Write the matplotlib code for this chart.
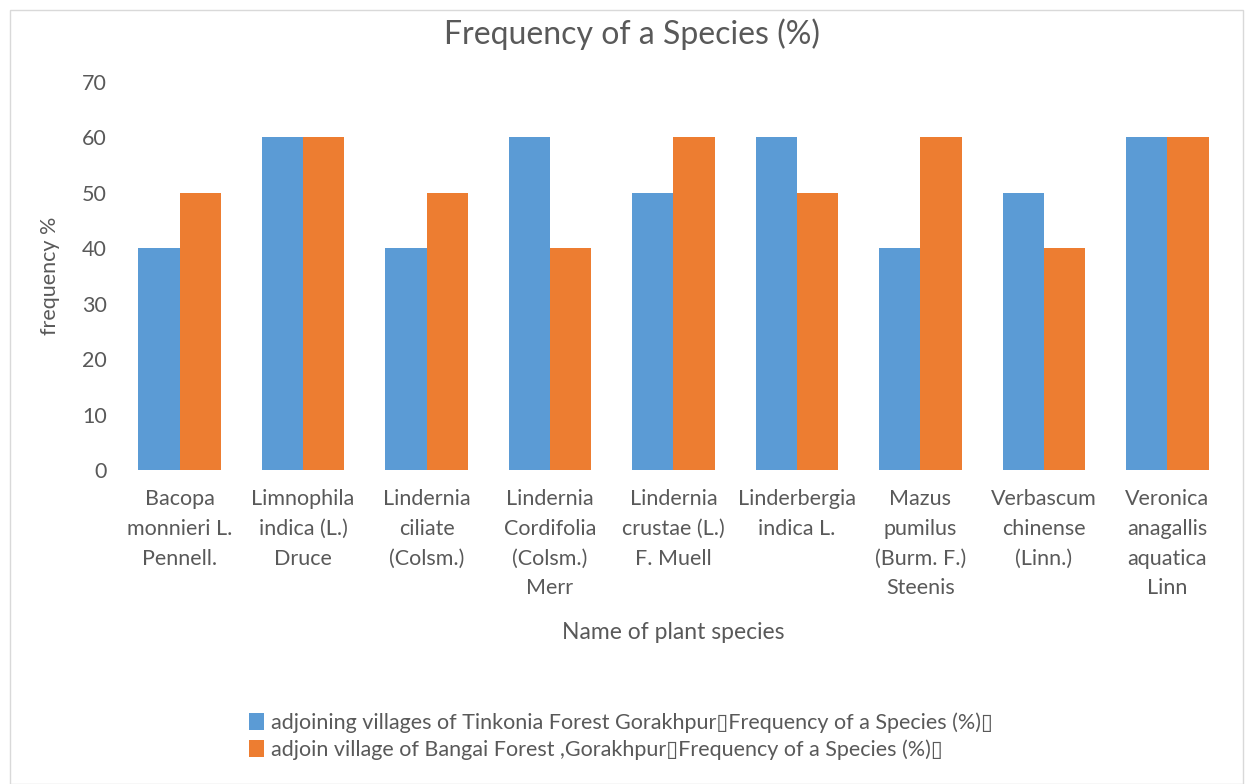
import numpy as np
import matplotlib.pyplot as plt
from matplotlib.patches import Rectangle

plt.rcParams['font.family'] = ['Lato', 'DejaVu Sans']

species = [
    "Bacopa\nmonnieri L.\nPennell.",
    "Limnophila\nindica (L.)\nDruce",
    "Lindernia\nciliate\n(Colsm.)",
    "Lindernia\nCordifolia\n(Colsm.)\nMerr",
    "Lindernia\ncrustae (L.)\nF. Muell",
    "Linderbergia\nindica L.",
    "Mazus\npumilus\n(Burm. F.)\nSteenis",
    "Verbascum\nchinense\n(Linn.)",
    "Veronica\nanagallis\naquatica\nLinn",
]
tinkonia = [40, 60, 40, 60, 50, 60, 40, 50, 60]
bangai = [50, 60, 50, 40, 60, 50, 60, 40, 60]

label_tinkonia = "adjoining villages of Tinkonia Forest Gorakhpur\u25afFrequency of a Species (%)\u25af"
label_bangai = "adjoin village of Bangai Forest ,Gorakhpur\u25afFrequency of a Species (%)\u25af"

text_color = "#595959"
blue = "#5B9BD5"
orange = "#ED7D31"

fig = plt.figure(figsize=(12.53, 7.84), dpi=100)
fig.patches.append(Rectangle((10 / 1253, 0.0), 1 - 20 / 1253, 1 - 10 / 784,
                             transform=fig.transFigure, fill=False,
                             edgecolor="#d9d9d9", linewidth=1))

ax = fig.add_axes([0.094, 0.4005, 0.887, 0.495])

x = np.arange(len(species))
w = 0.333
ax.bar(x - w / 2, tinkonia, w, color=blue, label=label_tinkonia)
ax.bar(x + w / 2, bangai, w, color=orange, label=label_bangai)

ax.set_xlim(-0.5, len(species) - 0.5)
ax.set_ylim(0, 70)
ax.set_yticks(range(0, 71, 10))
ax.set_xticks(x)
ax.set_xticklabels(species, fontsize=15.5, color=text_color, linespacing=1.6, va="top")
ax.tick_params(axis="y", labelsize=15.5, labelcolor=text_color, length=0, pad=8)
ax.tick_params(axis="x", length=0, pad=14)
for s in ax.spines.values():
    s.set_visible(False)

ax.set_ylabel("frequency %", fontsize=15.5, color=text_color, labelpad=16)
fig.text(0.504, 0.957, "Frequency of a Species (%)", fontsize=23, color=text_color,
         ha="center", va="center")
fig.text(0.537, 0.193, "Name of plant species", fontsize=16.5, color=text_color,
         ha="center", va="center")

leg = fig.legend(loc="upper left", bbox_to_anchor=(0.192, 0.102), frameon=False,
                 fontsize=15.5, labelcolor=text_color, handlelength=0.7,
                 handleheight=0.85, handletextpad=0.3, labelspacing=0.3,
                 borderaxespad=0)

fig.savefig("out.png", dpi=100)
